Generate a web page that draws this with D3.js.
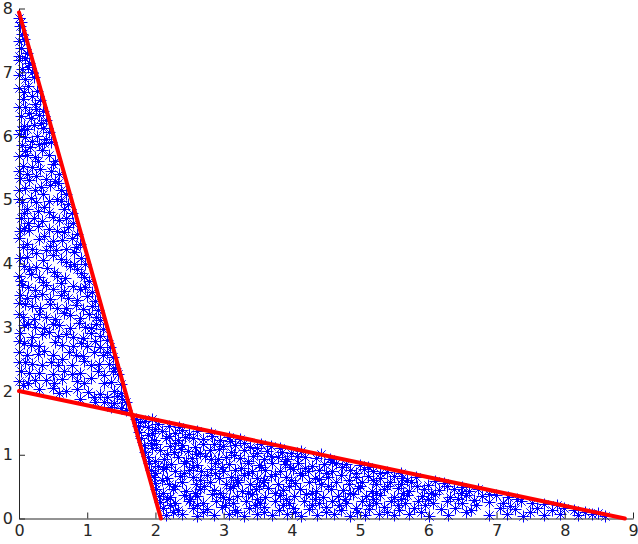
<!DOCTYPE html>
<html>
<head>
<meta charset="utf-8">
<script src="https://cdn.jsdelivr.net/npm/d3@7"></script>
<style>
  body { margin: 0; background: #fff; }
  svg { display: block; }
  .tick text { font-family: "DejaVu Sans", sans-serif; font-size: 16px; fill: #262626; }
</style>
</head>
<body>
<svg id="chart" width="638" height="544"></svg>
<script>
// tick values
var xTicks = [0, 1, 2, 3, 4, 5, 6, 7, 8, 9];
var yTicks = [0, 1, 2, 3, 4, 5, 6, 7, 8];

// the two red boundary lines
var line1 = [[0, 7.94], [2.08, 0]];
var line2 = [[0, 2.0], [8.88, 0]];

// scattered points, upper-left triangle
var pointsLeft = [
  [0.01,7.85],[0.02,7.72],[0.05,7.6],[0.0,7.48],[0.08,7.52],[0.03,7.38],[0.12,7.3],
  [0.0,7.18],[0.09,7.21],[0.16,7.14],[0.05,7.05],[0.2,7.0],[0.1,6.88],[0.22,6.92],
  [0.0,6.74],[0.14,6.78],[0.27,6.7],[0.06,6.58],[0.2,6.62],[0.31,6.55],
  [0.1,6.45],[0.25,6.42],[0.36,6.38],[0.03,6.3],[0.18,6.28],[0.3,6.32],[0.4,6.25],
  [0.08,6.15],[0.13,6.1],[0.22,6.16],[0.36,6.12],[0.45,6.05],
  [0.0,6.02],[0.1,5.98],[0.27,6.0],[0.4,5.95],[0.48,5.9],
  [0.05,5.85],[0.17,5.82],[0.3,5.86],[0.35,5.78],
  [0.0,5.68],[0.12,5.7],[0.24,5.66],[0.44,5.7],[0.54,5.6],
  [0.07,5.52],[0.2,5.5],[0.32,5.48],[0.48,5.45],[0.6,5.4],
  [0.02,5.33],[0.15,5.3],[0.4,5.32],[0.53,5.28],
  [0.1,5.18],[0.24,5.15],[0.33,5.2],[0.62,5.15],[0.7,5.08],
  [0.0,5.0],[0.05,4.95],[0.18,5.02],[0.45,4.98],[0.57,5.0],[0.72,4.92],
  [0.12,4.85],[0.28,4.82],[0.38,4.88],[0.66,4.84],[0.78,4.78],
  [0.03,4.7],[0.22,4.7],[0.34,4.66],[0.5,4.72],[0.6,4.68],[0.8,4.62],
  [0.08,4.55],[0.16,4.52],[0.44,4.54],[0.56,4.5],[0.72,4.56],[0.86,4.45],
  [0.0,4.4],[0.3,4.38],[0.38,4.42],[0.64,4.36],[0.78,4.4],[0.9,4.3],
  [0.06,4.25],[0.2,4.22],[0.46,4.27],[0.55,4.2],[0.7,4.22],[0.84,4.25],
  [0.02,4.08],[0.12,4.1],[0.36,4.05],[0.5,4.12],[0.62,4.06],[0.92,4.08],[0.98,3.98],
  [0.08,3.95],[0.26,3.94],[0.42,3.92],[0.76,3.95],[0.86,3.9],
  [0.0,3.8],[0.18,3.82],[0.3,3.78],[0.56,3.8],[0.68,3.76],[0.96,3.78],[1.04,3.72],
  [0.05,3.65],[0.14,3.62],[0.4,3.66],[0.5,3.6],[0.8,3.64],[0.9,3.6],[1.08,3.55],
  [0.02,3.5],[0.24,3.48],[0.34,3.52],[0.62,3.5],[0.72,3.45],[1.0,3.48],[1.12,3.4],
  [0.1,3.35],[0.2,3.32],[0.46,3.36],[0.56,3.3],[0.84,3.34],[0.94,3.28],[1.16,3.26],
  [0.0,3.2],[0.06,3.15],[0.3,3.2],[0.4,3.16],[0.66,3.22],[0.76,3.18],[1.04,3.2],[1.2,3.1],
  [0.14,3.05],[0.24,3.0],[0.5,3.05],[0.6,3.02],[0.88,3.06],[0.98,3.0],[1.14,3.04],[1.24,2.96],
  [0.02,2.9],[0.34,2.88],[0.44,2.92],[0.7,2.88],[0.8,2.84],[1.06,2.9],[1.2,2.86],[1.3,2.8],
  [0.08,2.75],[0.18,2.72],[0.54,2.76],[0.64,2.72],[0.92,2.74],[1.0,2.7],[1.34,2.68],
  [0.0,2.6],[0.28,2.58],[0.38,2.62],[0.74,2.6],[0.84,2.56],[1.1,2.6],[1.24,2.55],[1.38,2.52],
  [0.1,2.45],[0.2,2.42],[0.48,2.44],[0.58,2.4],[0.96,2.46],[1.06,2.4],[1.32,2.42],[1.42,2.36],
  [0.04,2.3],[0.3,2.28],[0.66,2.3],[0.78,2.26],[1.16,2.3],[1.26,2.24],[1.46,2.26],
  [0.0,2.15],[0.14,2.12],[0.4,2.16],[0.52,2.12],[0.86,2.15],[0.96,2.12],[1.36,2.14],[1.5,2.1],
  [0.3,2.02],[0.6,1.96],[0.7,2.0],[1.1,1.9],[1.2,1.95],[1.4,2.0],[1.5,1.96],
  [0.9,1.86],[1.25,1.82],[1.4,1.8],[1.52,1.86],[1.35,1.74],[1.5,1.72],[1.58,1.7],
  [0.04,7.78],[0.01,7.25],[0.14,7.08],[0.0,6.95],[0.08,6.68],[0.24,6.5],[0.15,6.35],[0.0,6.45],
  [0.33,6.2],[0.04,6.08],[0.2,5.92],[0.38,5.88],[0.1,5.75],[0.5,5.55],[0.28,5.6],[0.0,5.45],
  [0.12,5.4],[0.26,5.36],[0.46,5.22],[0.58,5.25],[0.0,5.15],[0.36,5.08],[0.62,4.98],[0.25,4.95],
  [0.08,4.78],[0.44,4.8],[0.7,4.7],[0.14,4.62],[0.28,4.58],[0.66,4.48],[0.02,4.5],[0.5,4.34],
  [0.82,4.18],[0.12,4.3],[0.26,4.15],[0.4,4.2],[0.7,4.02],[0.82,3.98],[0.16,3.9],[0.52,3.86],
  [0.92,3.84],[0.04,3.72],[0.36,3.7],[0.62,3.68],[0.24,3.58],[0.66,3.56],[0.98,3.62],[0.12,3.45],
  [0.46,3.44],[0.86,3.42],[1.08,3.32],[0.32,3.3],[0.7,3.3],[0.0,3.38],[0.22,3.12],[0.54,3.12],
  [0.9,3.14],[1.14,3.16],[0.08,3.02],[0.38,2.98],[0.76,2.98],[1.06,2.98],[0.2,2.84],[0.58,2.86],
  [0.94,2.82],[1.12,2.78],[0.0,2.78],[0.3,2.7],[0.8,2.7],[1.2,2.68],[0.12,2.55],[0.5,2.55],
  [0.64,2.5],[0.94,2.54],[1.3,2.6],[0.0,2.45],[0.34,2.4],[0.78,2.4],[1.18,2.42],[0.16,2.28],
  [0.5,2.26],[0.9,2.28],[1.38,2.3],[0.24,2.16],[0.64,2.18],[1.06,2.2],[1.26,2.12],[0.06,2.08],
  [0.5,2.04],[0.86,2.02],[1.02,1.98],[1.3,1.9],[1.58,1.82],[1.12,1.82],[1.44,1.92]
];

// scattered points, lower-right triangle
var pointsRight = [
  [1.72,1.56],[1.85,1.52],[1.95,1.55],
  [1.75,1.45],[1.9,1.42],[2.05,1.47],[2.2,1.44],[2.35,1.42],
  [1.76,1.35],[1.95,1.33],[2.1,1.36],[2.3,1.34],[2.5,1.32],[2.62,1.36],[2.82,1.33],
  [1.8,1.26],[1.98,1.22],[2.16,1.25],[2.34,1.23],[2.44,1.27],[2.7,1.24],[2.96,1.22],[3.08,1.27],[3.25,1.24],
  [1.84,1.14],[2.02,1.16],[2.22,1.13],[2.4,1.15],[2.58,1.12],[2.86,1.16],[3.0,1.13],[3.18,1.15],[3.4,1.12],[3.56,1.16],[3.7,1.13],
  [1.86,1.04],[2.08,1.06],[2.28,1.03],[2.48,1.05],[2.66,1.02],[2.8,1.06],[3.12,1.04],[3.3,1.06],[3.5,1.02],[3.64,1.05],[3.86,1.04],[4.0,1.02],[4.14,1.05],
  [1.9,0.95],[2.14,0.93],[2.34,0.96],[2.54,0.94],[2.74,0.97],[2.92,0.93],[3.04,0.96],[3.24,0.94],[3.44,0.97],[3.6,0.92],[3.8,0.95],[3.94,0.93],[4.2,0.96],[4.36,0.94],[4.56,0.92],
  [1.92,0.86],[2.04,0.82],[2.24,0.85],[2.42,0.87],[2.62,0.83],[2.88,0.86],[3.08,0.84],[3.36,0.86],[3.52,0.83],[3.72,0.87],[3.9,0.84],[4.1,0.86],[4.3,0.82],[4.48,0.85],[4.66,0.87],[4.8,0.84],[5.0,0.83],
  [1.94,0.75],[2.12,0.77],[2.3,0.74],[2.5,0.76],[2.68,0.73],[2.82,0.77],[3.0,0.74],[3.18,0.76],[3.42,0.73],[3.62,0.76],[3.84,0.74],[4.02,0.77],[4.24,0.74],[4.4,0.76],[4.6,0.73],[4.86,0.75],[5.06,0.77],[5.2,0.74],[5.4,0.72],
  [1.98,0.65],[2.18,0.63],[2.36,0.66],[2.56,0.64],[2.76,0.67],[2.94,0.63],[3.12,0.65],[3.3,0.67],[3.5,0.63],[3.7,0.66],[3.92,0.64],[4.16,0.67],[4.34,0.63],[4.54,0.65],[4.72,0.68],[4.94,0.64],[5.12,0.66],[5.3,0.63],[5.5,0.66],[5.62,0.62],[5.82,0.64],
  [2.0,0.55],[2.2,0.53],[2.4,0.56],[2.6,0.54],[2.8,0.57],[3.04,0.53],[3.22,0.56],[3.4,0.54],[3.58,0.57],[3.8,0.53],[4.06,0.55],[4.26,0.57],[4.44,0.53],[4.66,0.56],[4.84,0.54],[5.04,0.57],[5.24,0.53],[5.44,0.56],[5.6,0.54],[5.76,0.57],[6.0,0.52],[6.24,0.55],
  [2.02,0.45],[2.26,0.46],[2.46,0.43],[2.66,0.46],[2.86,0.44],[3.1,0.47],[3.28,0.43],[3.48,0.45],[3.66,0.47],[3.88,0.44],[4.12,0.46],[4.36,0.43],[4.58,0.46],[4.76,0.44],[4.98,0.47],[5.18,0.43],[5.36,0.45],[5.56,0.47],[5.72,0.43],[5.94,0.46],[6.16,0.44],[6.38,0.46],[6.6,0.43],[6.74,0.45],
  [2.06,0.35],[2.22,0.33],[2.42,0.36],[2.62,0.34],[2.84,0.37],[3.0,0.33],[3.2,0.35],[3.42,0.37],[3.62,0.33],[3.84,0.36],[4.04,0.34],[4.22,0.37],[4.46,0.33],[4.68,0.35],[4.9,0.37],[5.1,0.34],[5.3,0.36],[5.5,0.33],[5.7,0.36],[5.92,0.34],[6.1,0.37],[6.32,0.33],[6.56,0.36],[6.8,0.34],[7.0,0.36],[7.18,0.33],
  [2.08,0.25],[2.3,0.24],[2.5,0.27],[2.7,0.23],[2.9,0.26],[3.14,0.24],[3.34,0.27],[3.54,0.23],[3.76,0.26],[3.96,0.24],[4.18,0.27],[4.4,0.23],[4.6,0.26],[4.8,0.24],[5.04,0.27],[5.24,0.23],[5.46,0.26],[5.66,0.24],[5.86,0.27],[6.08,0.23],[6.28,0.26],[6.5,0.24],[6.9,0.25],[7.1,0.23],[7.36,0.26],[7.52,0.24],[7.7,0.22],
  [2.12,0.15],[2.34,0.13],[2.56,0.16],[2.76,0.14],[2.98,0.17],[3.18,0.13],[3.38,0.15],[3.6,0.17],[3.82,0.13],[4.02,0.16],[4.26,0.14],[4.5,0.17],[4.72,0.13],[4.94,0.16],[5.14,0.14],[5.36,0.17],[5.58,0.13],[5.8,0.15],[6.2,0.14],[6.4,0.16],[6.64,0.13],[7.06,0.15],[7.28,0.14],[7.6,0.16],[7.82,0.13],[8.0,0.15],[8.14,0.12],
  [2.16,0.04],[2.4,0.06],[2.62,0.03],[2.86,0.05],[3.08,0.07],[3.3,0.03],[3.5,0.06],[3.72,0.04],[3.94,0.07],[4.14,0.03],[4.38,0.05],[4.62,0.07],[4.86,0.03],[5.08,0.05],[5.28,0.07],[5.5,0.04],[5.72,0.06],[6.02,0.03],[6.3,0.05],[6.9,0.04],[7.16,0.06],[7.4,0.03],[7.7,0.05],[7.94,0.07],[8.2,0.04],[8.4,0.06],[8.6,0.03],
  [1.78,1.5],[2.0,1.4],[2.4,1.38],[1.9,1.3],[2.2,1.28],[2.56,1.26],[2.84,1.28],[3.1,1.2],
  [1.94,1.18],[2.3,1.18],[2.7,1.16],[3.3,1.18],[3.5,1.1],[1.96,1.1],[2.38,1.08],[2.94,1.08],
  [3.84,1.1],[2.18,1.0],[2.6,1.0],[3.16,0.99],[3.7,0.98],[4.08,0.97],[4.44,1.0],[2.0,0.9],
  [2.46,0.9],[2.82,0.92],[3.36,0.9],[3.9,0.9],[4.6,0.88],[2.16,0.8],[2.56,0.8],[2.98,0.8],
  [3.26,0.79],[3.56,0.8],[3.98,0.8],[4.2,0.79],[4.74,0.8],[5.12,0.8],[2.0,0.7],[2.42,0.7],
  [2.88,0.7],[3.36,0.7],[3.76,0.69],[4.12,0.7],[4.5,0.7],[4.94,0.7],[5.3,0.7],[5.6,0.7],
  [2.1,0.6],[2.66,0.6],[3.2,0.6],[3.6,0.6],[4.0,0.6],[4.4,0.61],[4.84,0.6],[5.2,0.6],
  [5.7,0.6],[6.1,0.58],[2.3,0.5],[2.72,0.5],[3.14,0.5],[3.52,0.5],[3.96,0.5],[4.54,0.5],
  [5.0,0.5],[5.4,0.5],[5.84,0.5],[6.28,0.5],[6.5,0.49],[2.12,0.4],[2.58,0.4],[2.96,0.4],
  [3.36,0.4],[3.76,0.4],[4.3,0.4],[4.86,0.4],[5.24,0.4],[5.64,0.4],[6.04,0.4],[6.48,0.4],
  [6.9,0.38],[2.18,0.3],[2.52,0.3],[3.08,0.3],[3.5,0.3],[3.92,0.3],[4.34,0.3],[4.78,0.3],
  [5.2,0.3],[5.6,0.3],[6.0,0.3],[6.44,0.3],[6.68,0.29],[7.3,0.3],[2.22,0.2],[2.62,0.2],
  [3.02,0.2],[3.46,0.2],[3.88,0.2],[4.3,0.2],[4.7,0.2],[5.14,0.2],[5.56,0.2],[5.96,0.2],
  [6.7,0.2],[7.2,0.19],[7.9,0.2],[2.26,0.1],[2.7,0.1],[3.2,0.1],[3.6,0.1],[4.06,0.1],
  [4.5,0.1],[4.96,0.1],[5.4,0.1],[5.9,0.1],[6.56,0.1],[7.5,0.1],[8.3,0.1],[8.5,0.08]
];

var svg = d3.select('#chart');

var x = d3.scaleLinear().domain([0, 9]).range([19, 633]);
var y = d3.scaleLinear().domain([0, 8]).range([518.5, 8.5]);

// asterisk marker: plus + cross
var r = 6, rd = 4.2;
var star = 'M' + (-r) + ',0L' + r + ',0M0,' + (-r) + 'L0,' + r +
    'M' + (-rd) + ',' + (-rd) + 'L' + rd + ',' + rd +
    'M' + (-rd) + ',' + rd + 'L' + rd + ',' + (-rd);

var allPoints = pointsLeft.concat(pointsRight);

// snap centres to half pixels so the plus arms stay sharp
svg.append('g')
    .selectAll('path')
    .data(allPoints)
    .enter().append('path')
    .attr('d', star)
    .attr('transform', function (d) {
        return 'translate(' + (Math.floor(x(d[0])) + 0.5) + ',' + (Math.floor(y(d[1])) + 0.5) + ')';
    })
    .attr('fill', 'none')
    .attr('stroke', '#0000ff')
    .attr('stroke-width', 1);

// axes, inward ticks
var xAxis = svg.append('g')
    .attr('transform', 'translate(0,' + y(0) + ')')
    .call(d3.axisBottom(x).tickValues(xTicks).tickSizeInner(-6).tickSizeOuter(0).tickPadding(6));
var yAxis = svg.append('g')
    .attr('transform', 'translate(' + x(0) + ',0)')
    .call(d3.axisLeft(y).tickValues(yTicks).tickSizeInner(-6).tickSizeOuter(0).tickPadding(6));

[xAxis, yAxis].forEach(function (a) {
    a.select('.domain').attr('stroke', '#262626');
    a.selectAll('.tick line').attr('stroke', '#262626');
});

var lineGen = d3.line()
    .x(function (d) { return x(d[0]); })
    .y(function (d) { return y(d[1]); });

svg.selectAll('.bound')
    .data([line1, line2])
    .enter().append('path')
    .attr('class', 'bound')
    .attr('d', lineGen)
    .attr('fill', 'none')
    .attr('stroke', '#ff0000')
    .attr('stroke-width', 4)
    .attr('stroke-linecap', 'round');
</script>
</body>
</html>
